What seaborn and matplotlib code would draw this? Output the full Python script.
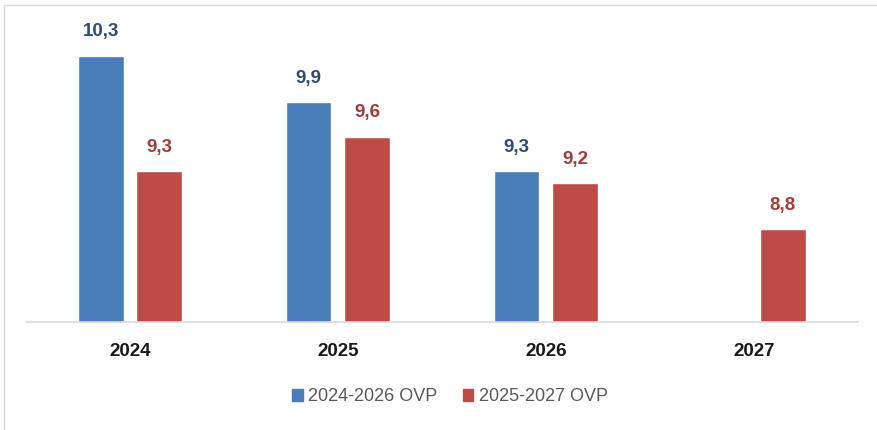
import pandas as pd
import seaborn as sns
import matplotlib.pyplot as plt
from matplotlib.patches import Rectangle

# Data
years = ["2024", "2025", "2026", "2027"]
ovp_2024_2026 = [10.3, 9.9, 9.3, None]
ovp_2025_2027 = [9.3, 9.6, 9.2, 8.8]
series_names = ["2024-2026 OVP", "2025-2027 OVP"]

blue = "#4A7EBB"
red = "#BE4B48"
blue_text = "#2F4B7C"
red_text = "#A23B3B"

df = pd.DataFrame({
    "Year": years * 2,
    "Value": ovp_2024_2026 + ovp_2025_2027,
    "Series": [series_names[0]] * 4 + [series_names[1]] * 4,
})

sns.set_theme(style="white")
plt.rcParams["font.family"] = ["Liberation Sans", "DejaVu Sans"]

fig = plt.figure(figsize=(8.77, 4.30), dpi=100)
ax = fig.add_axes([0.0296, 0.2512, 0.9484, 0.7138])

sns.barplot(data=df, x="Year", y="Value", hue="Series", order=years,
            hue_order=series_names, palette=[blue, red],
            width=0.56, gap=0.22, ax=ax, legend=False, saturation=1)

ax.set_ylim(8.0, 10.65)
ax.set_xlim(-0.5, 3.5)

# value labels
text_colors = [blue_text, red_text]
for cont, col in zip(ax.containers, text_colors):
    labels = []
    for bar in cont:
        h = bar.get_height()
        if pd.isna(h) or h == 0:
            labels.append("")
        else:
            labels.append(f"{h:.1f}".replace(".", ","))
    ax.bar_label(cont, labels=labels, padding=11, color=col,
                 fontsize=13.5, fontweight="bold")

# axes styling
for s in ["top", "right", "left"]:
    ax.spines[s].set_visible(False)
ax.spines["bottom"].set_color("#D9D9D9")
ax.spines["bottom"].set_linewidth(1.2)
ax.set_yticks([])
ax.set_xlabel("")
ax.set_ylabel("")
ax.tick_params(axis="x", length=0, pad=15)
for lbl in ax.get_xticklabels():
    lbl.set_fontweight("bold")
    lbl.set_fontsize(13.5)
    lbl.set_color("#1A1A1A")

# legend
handles = [Rectangle((0, 0), 1, 1, color=blue), Rectangle((0, 0), 1, 1, color=red)]
fig.legend(handles, series_names, loc="center", bbox_to_anchor=(0.513, 0.077),
           ncol=2, frameon=False, fontsize=13, handlelength=0.6, handleheight=0.6,
           handletextpad=0.3, columnspacing=1.4, labelcolor="#595959")

# thin outer frame
fig.patches.append(Rectangle((0.004, -0.05), 1.1, 1.038, transform=fig.transFigure,
                             fill=False, edgecolor="#D9D9D9", linewidth=1.0))

plt.savefig("out.png", dpi=100)
plt.close()
